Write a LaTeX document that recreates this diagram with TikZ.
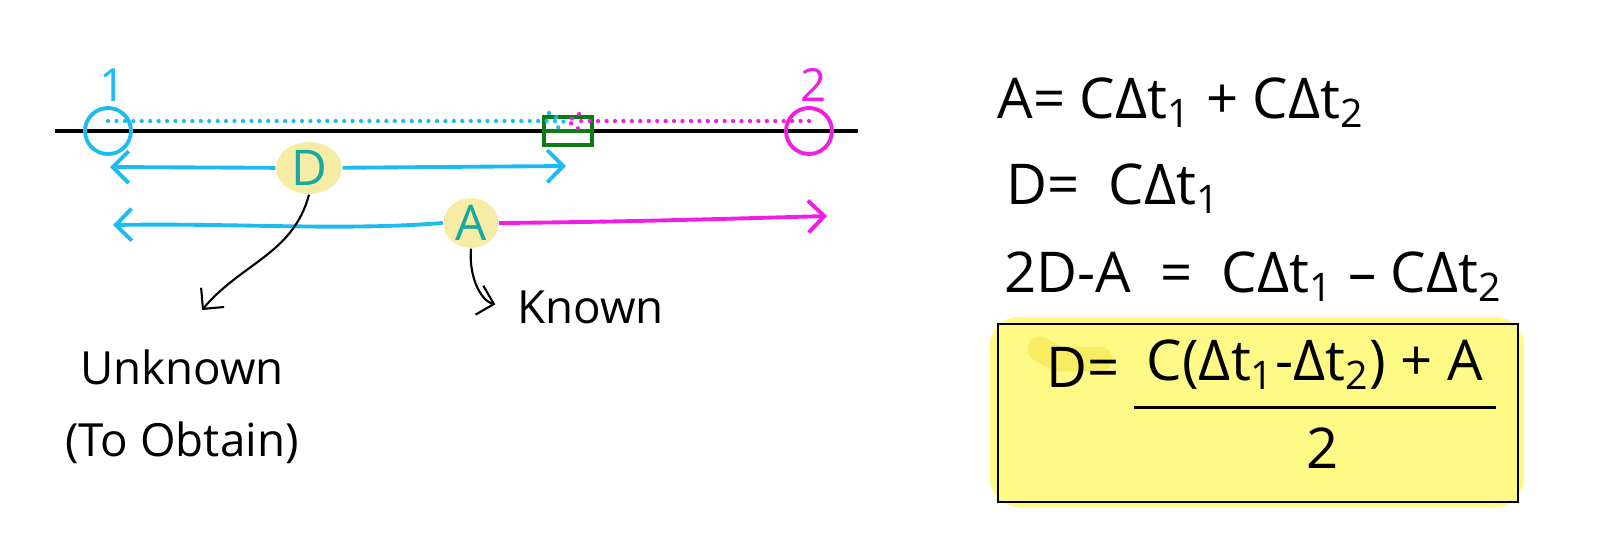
\documentclass[tikz,border=0pt]{standalone}
\usepackage{fontspec}
\setmainfont{Open Sans}
\usetikzlibrary{arrows.meta,positioning,shapes.geometric}

\definecolor{raycyan}{HTML}{1CBCF2}
\definecolor{raypink}{HTML}{F21DE4}
\definecolor{letterteal}{HTML}{16A99F}
\definecolor{marker}{HTML}{F7ECA6}
\definecolor{boxfill}{HTML}{FFFA86}
\definecolor{boxmark}{HTML}{F7EA5A}
\definecolor{hitgreen}{HTML}{0E7A14}

\tikzset{
  hand/.style={font=\fontsize{13}{15}\selectfont},
  eqn/.style={anchor=west, font=\fontsize{16}{19}\selectfont},
  blob/.style={ellipse, fill=marker, inner sep=0pt, text=letterteal, font=\fontsize{14}{16}\selectfont},
  ray/.style={line width=1.1pt, -{Straight Barb[length=1.6mm,width=3.2mm]}},
  pointer/.style={semithick, -{Straight Barb[length=1.5mm,width=3mm]}},
  dots/.style={line width=1.2pt, line cap=round, dash pattern=on 0pt off 2.4pt},
}

\begin{document}
\begin{tikzpicture}
\useasboundingbox (0,0) rectangle (16.21,5.47);

% the baseline with the two stations
\draw [line width=1pt] (0.55,4.16) -- (8.58,4.16);
\node [circle, draw=raycyan, line width=1.1pt, minimum size=0.46cm] (st1) at (1.08,4.16) {};
\node [circle, draw=raypink, line width=1.1pt, minimum size=0.46cm] (st2) at (8.09,4.16) {};
\node [hand, text=raycyan] (lab1) at (1.13,4.62) {1};
\node [hand, text=raypink] (lab2) at (8.14,4.62) {2};

% meeting point
\node [draw=hitgreen, line width=1.2pt, minimum width=0.48cm, minimum height=0.28cm, inner sep=0pt] (hit) at (5.68,4.16) {};
\draw [hitgreen, line width=1.2pt] (hit.west) -- (hit.east);
\draw [raycyan, dots] ([yshift=1mm]st1.center) -- ([xshift=-0.5mm,yshift=1mm]hit.center);
\draw [raypink, dots] ([yshift=1mm]st2.center) -- ([xshift=0.5mm,yshift=1mm]hit.center);
\draw [raycyan, dots] (5.49,4.34) -- (5.64,4.25) -- (5.53,4.15);
\draw [raypink, dots] (5.79,4.33) -- (5.68,4.26) -- (5.83,4.15);

% distance D
\node [blob, minimum width=0.66cm, minimum height=0.52cm] (dnode) at (3.09,3.79) {D};
\coordinate (dleft) at (1.10,3.80);
\coordinate (dright) at (5.66,3.81);
\draw [ray, raycyan] (dnode) -- (dleft);
\draw [ray, raycyan] (dnode) -- (dright);

% distance A
\node [blob, minimum width=0.55cm, minimum height=0.47cm] (anode) at (4.71,3.24) {A};
\coordinate (aleft) at (1.13,3.22);
\coordinate (aright) at (8.27,3.31);
\draw [ray, raycyan] (anode.west) .. controls (3.4,3.16) and (2.4,3.24) .. (aleft);
\draw [ray, raypink] (anode.east) .. controls (6.2,3.25) and (7.2,3.28) .. (aright);

% labels
\node [hand] (unknown) at (1.82,1.80) {Unknown};
\node [hand, below=0.12cm of unknown] (obtain) {(To Obtain)};
\node [hand, anchor=west] (known) at (5.05,2.40) {Known};
\coordinate (unkend) at (2.02,2.37);
\draw [pointer] (dnode.south) to [out=-105, in=50] (unkend);
\draw [pointer, shorten >=1mm] (anode.south) to [out=-95, in=165] (known.west);

% equations
\node [eqn] (eq1) at (9.85,4.44) {A= CΔt\textsubscript{1} + CΔt\textsubscript{2}};
\node [eqn] (eq2) at (9.94,3.58) {D= \ CΔt\textsubscript{1}};
\node [eqn] (eq3) at (9.92,2.70) {2D-A \ = \ CΔt\textsubscript{1} – CΔt\textsubscript{2}};

% result
\fill [boxfill, rounded corners=8pt] (9.90,0.40) rectangle (15.24,2.30);
\node [draw, thick, fill=boxfill, minimum width=5.20cm, minimum height=1.78cm] (result) at (12.58,1.34) {};
\draw [boxmark, line width=2.5mm, line cap=round, opacity=0.8] (10.40,1.98) -- (10.58,1.88) -- (11.00,1.88);
\node [eqn, anchor=center] (lhs) at (10.83,1.80) {D=};
\node [eqn, anchor=center] (num) at (13.15,1.82) {C(Δt\textsubscript{1}-Δt\textsubscript{2}) + A};
\node [eqn, anchor=center] (den) at (13.23,0.99) {2};
\draw [thick] ([yshift=-0.5mm]num.south west) -- ([yshift=-0.5mm]num.south east);

\end{tikzpicture}
\end{document}
